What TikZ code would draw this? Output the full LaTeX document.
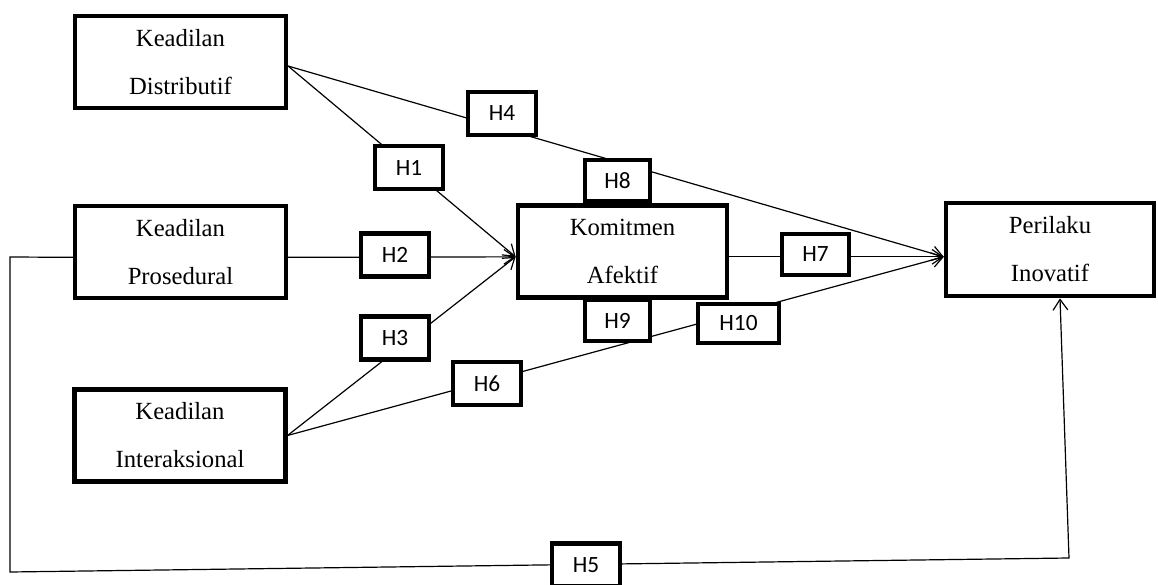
\documentclass[tikz,border=0pt]{standalone}
\usepackage{fontspec}
\setmainfont{Liberation Serif}
\newfontfamily\hfont{Carlito}
\usetikzlibrary{arrows.meta}

\begin{document}
\begin{tikzpicture}[x=0.75pt, y=-0.75pt,
    konsep/.style={draw, line width=3.3pt, minimum width=158pt, minimum height=69pt, align=center,
        font=\fontsize{18.5}{36}\selectfont},
    hipo/.style={draw, line width=3.3pt, fill=white, minimum width=51pt, minimum height=32pt,
        inner sep=0pt, font=\hfont\fontsize{17.5}{18}\selectfont},
    garis/.style={line width=0.9pt},
    panah/.style={garis, -{Straight Barb[length=8pt,width=11pt]}}]

\useasboundingbox (0,0) rectangle (1158,585);

\node[konsep] (kd) at (180.5,62) {Keadilan\\Distributif};
\node[konsep] (kp) at (180.5,252) {Keadilan\\Prosedural};
\node[konsep] (ki) at (180,435.5) {Keadilan\\Interaksional};
\node[konsep, minimum width=157pt] (ka) at (622.5,251.5) {Komitmen\\Afektif};
\node[konsep, minimum width=156pt, minimum height=70pt] (pi) at (1050,249.5) {Perilaku\\Inovatif};

\coordinate (kiri atas) at (10,257);
\coordinate (kiri bawah) at (10,572);
\coordinate (kanan bawah) at (1069,558);

\draw[panah] ([yshift=-3pt]kd.east) -- ([yshift=-4pt]ka.west);
\draw[panah] ([yshift=-3pt]kd.east) -- ([yshift=-5.5pt]pi.west);
\draw[panah] ([yshift=-4pt]kp.east) -- ([yshift=-4pt]ka.west);
\draw[panah] (ki.east) -- ([yshift=-4pt]ka.west);
\draw[panah] (ki.east) -- ([yshift=-5.5pt]pi.west);
\draw[panah] ([yshift=-4pt]ka.east) -- ([yshift=-5.5pt]pi.west);
\draw[panah] ([yshift=-4pt]kp.west) -- (kiri atas) -- (kiri bawah) -- (kanan bawah) -- ([xshift=7.5pt]pi.south);

\node[hipo] (h4) at (502,113.5) {H4};
\node[hipo] (h1) at (409,167.5) {H1};
\node[hipo] (h2) at (395,255) {H2};
\node[hipo] (h3) at (395,338) {H3};
\node[hipo] (h6) at (487,383.5) {H6};
\node[hipo, minimum width=49pt, minimum height=31pt] (h8) at (617.5,180.5) {H8};
\node[hipo, minimum width=49pt, minimum height=31pt] (h9) at (617.5,320.5) {H9};
\node[hipo, minimum width=61pt, minimum height=29pt] (h10) at (738.5,323.5) {H10};
\node[hipo, minimum width=50pt, minimum height=31pt] (h7) at (815.5,254.5) {H7};
\node[hipo] (h5) at (586,565) {H5};

\end{tikzpicture}
\end{document}
